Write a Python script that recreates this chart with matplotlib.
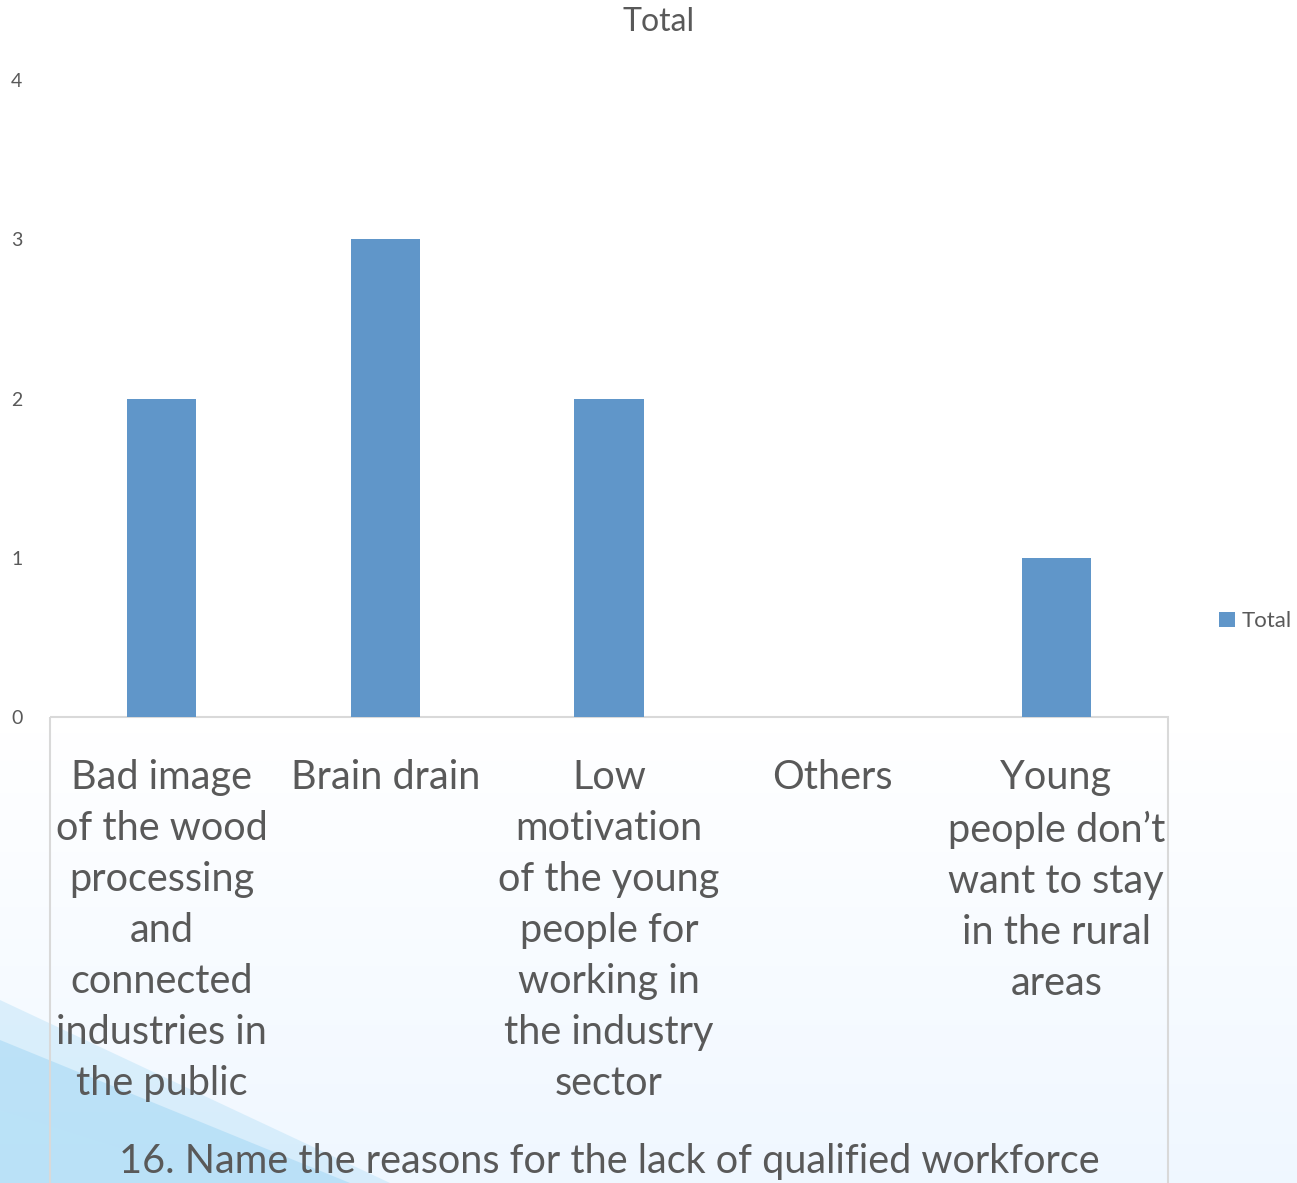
import matplotlib.pyplot as plt
import numpy as np
from matplotlib.patches import Rectangle, Polygon

# data
categories = [
    "Bad image\nof the wood\nprocessing\nand\nconnected\nindustries in\nthe public",
    "Brain drain",
    "Low\nmotivation\nof the young\npeople for\nworking in\nthe industry\nsector",
    "Others",
    "Young\npeople don\u2019t\nwant to stay\nin the rural\nareas",
]
totals = [2, 3, 2, 0, 1]
yticks = [0, 1, 2, 3, 4]

W, H = 1297, 1183
plt.rcParams['font.family'] = ['Lato', 'DejaVu Sans']
txt = '#595959'
bar_color = '#6096C9'

fig = plt.figure(figsize=(W / 100, H / 100), dpi=100)
fig.patch.set_facecolor('white')

# background: soft blue gradient toward the bottom + swoosh at lower left
bg = fig.add_axes([0, 0, 1, 1], zorder=-10)
bg.set_xlim(0, W)
bg.set_ylim(H, 0)
bg.axis('off')
yy = np.linspace(0, 1, 300)[:, None]
grad = np.clip((yy - 0.62) / 0.38, 0, 1)
img = np.ones((300, 2, 4))
img[..., 0] = 1 - 0.06 * grad
img[..., 1] = 1 - 0.03 * grad
img[..., 2] = 1.0
bg.imshow(img, extent=[0, W, H, 0], aspect='auto', zorder=0)
bg.add_patch(Polygon([[0, 1000], [0, 1183], [390, 1183]], closed=True,
                     facecolor='#A8DAF5', alpha=0.35, lw=0, zorder=1))
bg.add_patch(Polygon([[0, 1040], [0, 1183], [350, 1183]], closed=True,
                     facecolor='#86CBF1', alpha=0.35, lw=0, zorder=1))
bg.add_patch(Polygon([[0, 1110], [0, 1183], [230, 1183]], closed=True,
                     facecolor='#BCE4F8', alpha=0.45, lw=0, zorder=1))

# box around the category area
left, right, y0, ytop = 50, 1168, 717, 80
bg.add_patch(Rectangle((left, y0), right - left, H - y0 + 5, fill=False,
                       edgecolor='#D9D9D9', lw=1.5, zorder=2))

ax = fig.add_axes([left / W, 1 - y0 / H, (right - left) / W, (y0 - ytop) / H])
ax.patch.set_alpha(0)
x = np.arange(len(categories))
ax.bar(x, totals, width=0.31, color=bar_color, label='Total', zorder=3)
ax.set_xlim(-0.5, len(categories) - 0.5)
ax.set_ylim(0, 4)
for s in ax.spines.values():
    s.set_visible(False)

ax.set_yticks(yticks)
ax.set_yticklabels([str(v) for v in yticks])
ax.tick_params(axis='y', length=0, pad=24, labelsize=14, labelcolor=txt)
for lab in ax.get_yticklabels():
    lab.set_horizontalalignment('center')

ax.set_xticks(x)
ax.set_xticklabels(categories)
ax.tick_params(axis='x', length=0, pad=30, labelsize=28.5, labelcolor=txt)
for lab in ax.get_xticklabels():
    lab.set_linespacing(1.47)
    lab.set_verticalalignment('top')

fig.text(659 / W, 1 - 22 / H, 'Total', ha='center', va='center',
         fontsize=23, color=txt)
fig.text(609 / W, 1 - 1162 / H, '16. Name the reasons for the lack of qualified workforce',
         ha='center', va='center', fontsize=28.5, color=txt)

leg = ax.legend(loc='center left', bbox_to_anchor=(1.028, 0.15), frameon=False,
                fontsize=16, handlelength=0.7, handleheight=0.7, handletextpad=0.3,
                labelcolor=txt)

fig.savefig('out.png', dpi=100)
